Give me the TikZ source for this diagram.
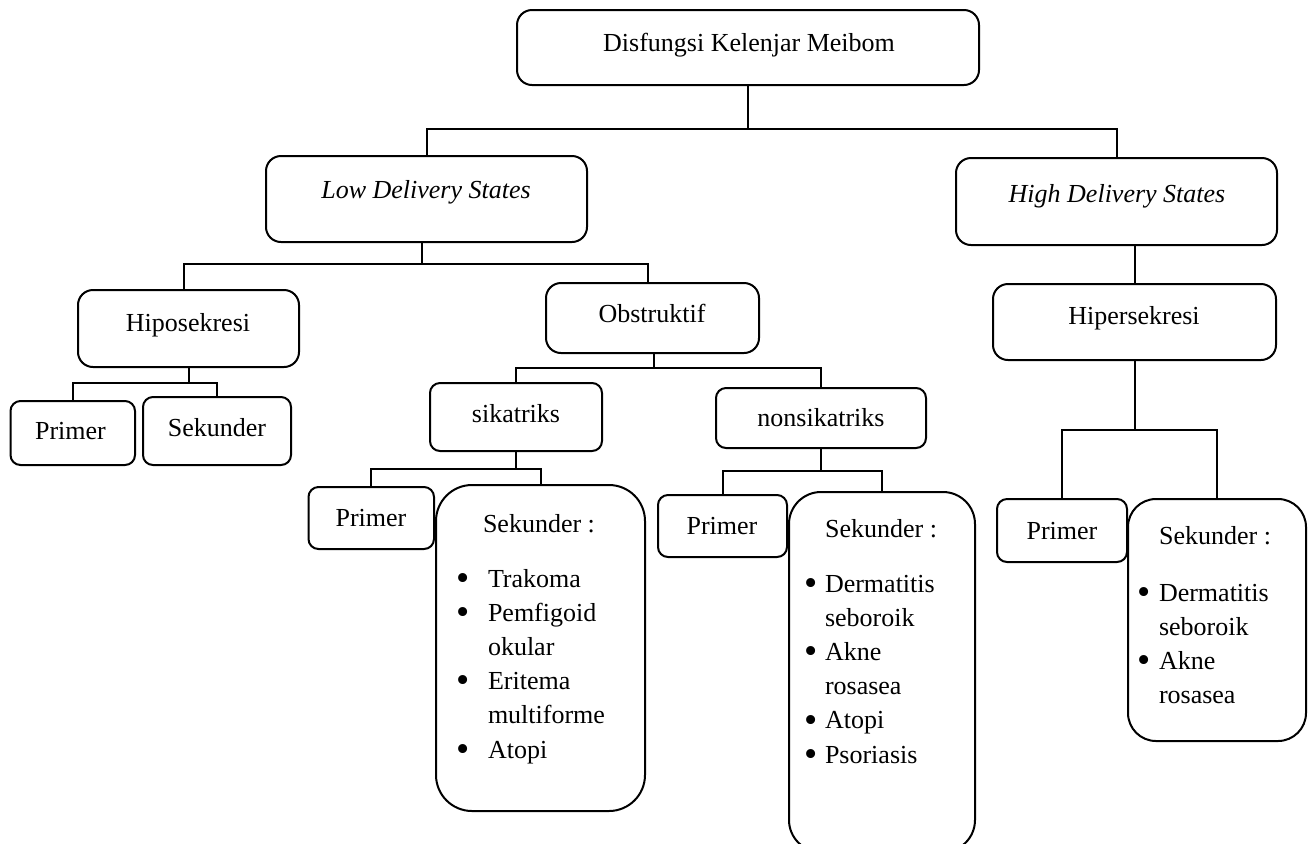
\documentclass[tikz,border=0pt]{standalone}
\usepackage{fontspec}
\setmainfont{Liberation Serif}
\newcommand\fs{\fontsize{13}{17.1}\selectfont}
\newcommand\bul{\raisebox{-1.6pt}{\scalebox{1.45}{•}}}
\begin{document}
\begin{tikzpicture}[x=0.5pt,y=-0.5pt,
  box/.style={draw, line width=1pt, rounded corners=7.5pt, inner sep=0pt, outer sep=0pt},
  sbox/.style={box, rounded corners=5pt},
  txt/.style={inner sep=0pt, anchor=base, font=\fs},
  lst/.style={inner sep=0pt, anchor=base west, font=\fs},
  conn/.style={line width=1pt}]
\useasboundingbox (0,0) rectangle (1312,843);
\clip (0,0) rectangle (1312,843);

% boxes
\node[box, minimum width=231pt, minimum height=37.5pt] (top) at (748,47.5) {};
\node[box, minimum width=160.5pt, minimum height=43pt] (low) at (426.5,199) {};
\node[box, minimum width=160.5pt, minimum height=43.5pt] (high) at (1116.5,201.5) {};
\node[box, minimum width=110.5pt, minimum height=38.5pt] (hipo) at (188.5,328.5) {};
\node[box, minimum width=106.5pt, minimum height=35pt] (obst) at (652.5,318) {};
\node[box, minimum width=141.5pt, minimum height=38pt] (hiper) at (1134.5,322) {};
\node[sbox, minimum width=62.25pt, minimum height=32pt] (prim1) at (72.75,433) {};
\node[sbox, minimum width=74pt, minimum height=34pt] (sek1) at (217,431) {};
\node[sbox, minimum width=86pt, minimum height=34pt] (sik) at (516,417) {};
\node[sbox, minimum width=105pt, minimum height=30pt] (nonsik) at (821,418) {};
\node[sbox, minimum width=62.75pt, minimum height=31pt] (prim2) at (371.25,518) {};
\node[box, rounded corners=18pt, minimum width=104.5pt, minimum height=163pt] (sek2) at (540.5,648) {};
\node[sbox, minimum width=64.5pt, minimum height=31pt] (prim3) at (722.5,526) {};
\node[box, rounded corners=16pt, minimum width=93pt, minimum height=180pt] (sek3) at (882,672) {};
\node[sbox, minimum width=65pt, minimum height=31.5pt] (prim4) at (1062,530.5) {};
\node[box, rounded corners=14pt, minimum width=89pt, minimum height=121pt] (sek4) at (1217,620) {};

% texts
\node[txt] (top-t) at (749,51) {Disfungsi Kelenjar Meibom};
\node[txt] (low-t) at (426,198) {\itshape Low Delivery States};
\node[txt] (high-t) at (1117,202) {\itshape High Delivery States};
\node[txt] (hipo-t) at (188,331) {Hiposekresi};
\node[txt] (obst-t) at (652,322) {Obstruktif};
\node[txt] (hiper-t) at (1134,324) {Hipersekresi};
\node[txt] (prim1-t) at (70.5,439) {Primer};
\node[txt] (sek1-t) at (217,436) {Sekunder};
\node[txt] (sik-t) at (516,422) {sikatriks};
\node[txt] (nonsik-t) at (821,426) {nonsikatriks};
\node[txt] (prim2-t) at (371,526) {Primer};
\node[txt] (sek2-h) at (539,532) {Sekunder :};
\node[txt] (prim3-t) at (722,534) {Primer};
\node[txt] (sek3-h) at (881,537) {Sekunder :};
\node[txt] (prim4-t) at (1062,539) {Primer};
\node[txt] (sek4-h) at (1215,544) {Sekunder :};

\node[lst] (sek2-l) at (456,587) {\begin{tabular}[t]{@{}c@{\hspace{9.2pt}}l@{}}
\bul&Trakoma\\ \bul&Pemfigoid\\ &okular\\ \bul&Eritema\\ &multiforme\\ \bul&Atopi\end{tabular}};
\node[lst] (sek3-l) at (804,592) {\begin{tabular}[t]{@{}c@{\hspace{3.7pt}}l@{}}
\bul&Dermatitis\\ &seboroik\\ \bul&Akne\\ &rosasea\\ \bul&Atopi\\ \bul&Psoriasis\end{tabular}};
\node[lst] (sek4-l) at (1137,601) {\begin{tabular}[t]{@{}c@{\hspace{4.2pt}}l@{}}
\bul&Dermatitis\\ &seboroik\\ \bul&Akne\\ &rosasea\end{tabular}};

% connectors
\coordinate (j1) at (748,129);
\coordinate (j2) at (422,264);
\coordinate (j3) at (188.5,383);
\coordinate (j4) at (654,368);
\coordinate (j5) at (516,469);
\coordinate (j6) at (821,471);
\coordinate (j7) at (1134.5,430);

\draw[conn] (top.south) -- (j1);
\draw[conn] (low.north) |- (j1) -| (high.north);
\draw[conn] ([xshift=-2.25pt]low.south) -- (j2);
\draw[conn] ([xshift=-2.25pt]hipo.north) |- (j2) -| ([xshift=-2.25pt]obst.north);
\draw[conn] (hiper.north) -- (hiper.north |- high.south);
\draw[conn] (hipo.south) -- (j3);
\draw[conn] (prim1.north) |- (j3) -| (sek1.north);
\draw[conn] ([xshift=0.75pt]obst.south) -- (j4);
\draw[conn] (sik.north) |- (j4) -| (nonsik.north);
\draw[conn] (sik.south) -- (j5);
\draw[conn] (prim2.north) |- (j5) -| (sek2.north);
\draw[conn] (nonsik.south) -- (j6);
\draw[conn] (prim3.north) |- (j6) -| (sek3.north);
\draw[conn] (hiper.south) -- (j7);
\draw[conn] (prim4.north) |- (j7) -| (sek4.north);
\end{tikzpicture}
\end{document}
